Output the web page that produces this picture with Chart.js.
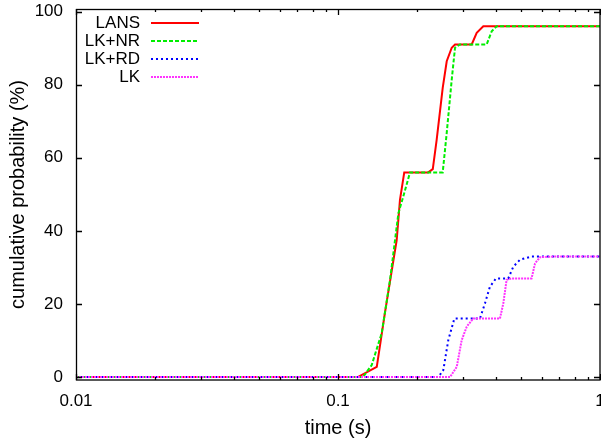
<!DOCTYPE html>
<html>
<head>
<meta charset="utf-8">
<script src="https://cdn.jsdelivr.net/npm/chart.js@4/dist/chart.umd.min.js"></script>
<style>
  html, body { margin: 0; padding: 0; background: #fff; }
  #wrap { width: 601px; height: 441px; }
</style>
</head>
<body>
<div id="wrap"><canvas id="cdf" width="601" height="441"></canvas></div>
<script>
// values (time in s, probability in %)
const lansTime = [0.01, 0.119, 0.1406, 0.151, 0.1675, 0.1724, 0.179, 0.221, 0.23, 0.238, 0.251, 0.26, 0.2717, 0.2797, 0.3238, 0.3384, 0.3586, 1];
const lansProb = [0, 0, 2.8, 17.5, 37.5, 48.5, 56, 56, 56.9, 64.9, 79.1, 86.4, 90.1, 91, 91, 94.2, 96, 96];

const nrTime = [0.01, 0.1246, 0.1345, 0.1468, 0.158, 0.17, 0.1775, 0.1883, 0.251, 0.26, 0.2717, 0.2797, 0.292, 0.3694, 0.386, 0.4035, 1];
const nrProb = [0, 0, 3.3, 12, 26.6, 44.8, 49.4, 56, 56, 66.8, 81.4, 90.1, 91, 91, 94.6, 96, 96];

const rdTime = [0.01, 0.2415, 0.2523, 0.2636, 0.278, 0.348, 0.364, 0.38, 0.401, 0.4467, 0.4667, 0.495, 0.548, 1];
const rdProb = [0, 0, 1.9, 10.1, 16, 16, 20.2, 24.7, 27, 27, 30.2, 32.1, 33, 33];

const lkTime = [0.01, 0.2677, 0.284, 0.2965, 0.31, 0.328, 0.415, 0.4276, 0.44, 0.46, 0.548, 0.565, 0.59, 0.684, 1];
const lkProb = [0, 0, 2.8, 10.1, 13.8, 16, 16, 20.2, 26.6, 27, 27, 31.1, 32.8, 33, 33];

const seriesNames = ["LANS", "LK+NR", "LK+RD", "LK"];
const xTickValues = [0.01, 0.1, 1];
const yTickValues = [0, 20, 40, 60, 80, 100];

const FONT = "'Liberation Sans', Arial, Helvetica, sans-serif";

function toPoints(ts, ps) {
  return ts.map((t, i) => ({ x: t, y: ps[i] }));
}

// inward ticks on all four sides + border, like gnuplot
const frame = {
  id: "frame",
  afterDatasetsDraw(chart) {
    const { ctx, chartArea: a, scales } = chart;
    const x = scales.x, y = scales.y;
    ctx.save();
    ctx.strokeStyle = "#000";
    ctx.lineWidth = 1.3;
    ctx.beginPath();
    yTickValues.forEach((v) => {
      const py = Math.round(y.getPixelForValue(v)) + 0.5;
      ctx.moveTo(a.left, py); ctx.lineTo(a.left + 6, py);
      ctx.moveTo(a.right, py); ctx.lineTo(a.right - 6, py);
    });
    for (let dec = 0.01; dec < 1.5; dec *= 10) {
      for (let m = 1; m <= 9; m++) {
        const v = dec * m;
        if (v > 1.0001) break;
        const len = m === 1 ? 6 : 3;
        const px = Math.round(x.getPixelForValue(v)) + 0.5;
        ctx.moveTo(px, a.bottom); ctx.lineTo(px, a.bottom - len);
        ctx.moveTo(px, a.top); ctx.lineTo(px, a.top + len);
      }
    }
    ctx.stroke();
    ctx.strokeRect(a.left + 0.5, a.top + 0.5, a.right - a.left - 0.5, a.bottom - a.top - 0.5);
    ctx.restore();
  },
  afterDraw(chart) {
    // key in top-left corner: right-aligned name, then a line sample
    const { ctx } = chart;
    ctx.save();
    ctx.font = "17px " + FONT;
    ctx.textAlign = "right";
    ctx.textBaseline = "middle";
    chart.data.datasets.forEach((ds, i) => {
      const yy = 23 + i * 18;
      ctx.fillStyle = "#000";
      ctx.fillText(ds.label, 140, yy);
      ctx.strokeStyle = ds.borderColor;
      ctx.lineWidth = ds.borderWidth;
      ctx.setLineDash(ds.borderDash || []);
      ctx.beginPath();
      ctx.moveTo(151, yy);
      ctx.lineTo(199, yy);
      ctx.stroke();
    });
    ctx.restore();
  },
};

const common = {
  showLine: true,
  pointRadius: 0,
  tension: 0,
  borderWidth: 2,
  fill: false,
};

new Chart(document.getElementById("cdf"), {
  type: "scatter",
  data: {
    datasets: [
      { ...common, label: seriesNames[0], data: toPoints(lansTime, lansProb), borderColor: "#ff0000", order: 4 },
      { ...common, label: seriesNames[1], data: toPoints(nrTime, nrProb), borderColor: "#00ee00", borderDash: [4, 2], order: 3 },
      { ...common, label: seriesNames[2], data: toPoints(rdTime, rdProb), borderColor: "#0000ff", borderDash: [2, 3], order: 2 },
      { ...common, label: seriesNames[3], data: toPoints(lkTime, lkProb), borderColor: "#ff33ff", borderDash: [2, 1], order: 1 },
    ],
  },
  options: {
    responsive: false,
    animation: false,
    layout: { padding: { top: 9, right: 1, left: 0, bottom: 0 } },
    plugins: { legend: { display: false }, tooltip: { enabled: false } },
    scales: {
      x: {
        type: "logarithmic",
        min: 0.01,
        max: 1,
        afterBuildTicks: (s) => { s.ticks = xTickValues.map((v) => ({ value: v })); },
        afterFit: (s) => { s.height = 61; s.paddingLeft = 0; s.paddingRight = 0; },
        grid: { display: false, drawTicks: false },
        border: { display: false },
        ticks: {
          color: "#000",
          font: { family: FONT, size: 17 },
          padding: 11,
          maxRotation: 0,
          autoSkip: false,
          callback: (v) => String(v),
        },
        title: {
          display: true,
          text: "time (s)",
          color: "#000",
          font: { family: FONT, size: 20 },
          padding: { top: 0, bottom: 1 },
        },
      },
      y: {
        min: -0.8,
        max: 100.7,
        afterBuildTicks: (s) => { s.ticks = yTickValues.map((v) => ({ value: v })); },
        afterFit: (s) => { s.width = 76; s.paddingTop = 0; s.paddingBottom = 0; },
        grid: { display: false, drawTicks: false },
        border: { display: false },
        ticks: {
          color: "#000",
          font: { family: FONT, size: 17 },
          padding: 13,
          callback: (v) => String(v),
        },
        title: {
          display: true,
          text: "cumulative probability (%)",
          color: "#000",
          font: { family: FONT, size: 20 },
          padding: { top: 6, bottom: 0 },
        },
      },
    },
  },
  plugins: [frame],
});
</script>
</body>
</html>
